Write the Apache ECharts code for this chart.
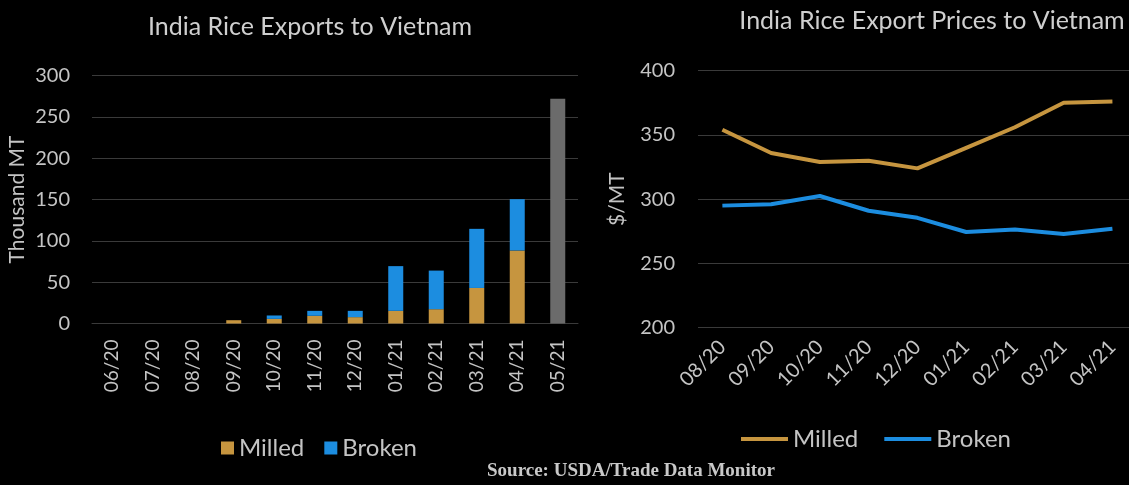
<!DOCTYPE html>
<html>
<head>
<meta charset="utf-8">
<script src="https://cdn.jsdelivr.net/npm/echarts@6/dist/echarts.min.js"></script>
<style>
html,body{margin:0;padding:0;background:#000;}
#c{width:1129px;height:485px;}
</style>
</head>
<body>
<div id="c"></div>
<script>
// Left chart: India Rice Exports to Vietnam (Thousand MT)
const exportMonths = ['06/20','07/20','08/20','09/20','10/20','11/20','12/20','01/21','02/21','03/21','04/21','05/21'];
const exportMilled = [null, null, null, 4, 5.6, 9.3, 7.7, 15.3, 17.3, 43, 88.3, null];
const exportBroken = [null, null, null, null, 4.1, 6, 7.6, 54.1, 46.7, 71.5, 62.1, null];
const exportTotalOnly = [null, null, null, null, null, null, null, null, null, null, null, 272];
const exportTicks = [0, 50, 100, 150, 200, 250, 300];

// Right chart: India Rice Export Prices to Vietnam ($/MT)
const priceMonths = ['08/20','09/20','10/20','11/20','12/20','01/21','02/21','03/21','04/21'];
const priceMilled = [354, 336, 329, 330, 324, 340, 356, 375, 376];
const priceBroken = [295, 296, 302.5, 291, 285.5, 274.5, 276.5, 273, 277];
const priceTicks = [200, 250, 300, 350, 400];

const FONT = 'Lato';
const TXT = '#c4c4c4';
const GRID = '#3a3a3a';
const GOLD = '#c6953f';
const BLUE = '#1c8de0';
const GRAY = '#6b6b6b';

const monthIdx = priceMonths.map((_, i) => i);
const toPairs = arr => arr.map((v, i) => [i, v]);

const chart = echarts.init(document.getElementById('c'));
chart.setOption({
  backgroundColor: '#000',
  animation: false,
  textStyle: { fontFamily: FONT },
  title: [
    { text: 'India Rice Exports to Vietnam', left: 305, textAlign: 'center', top: 9,
      textStyle: { color: '#cfcfcf', fontSize: 25, fontWeight: 'normal', fontFamily: FONT } },
    { text: 'India Rice Export Prices to Vietnam', left: 927, textAlign: 'center', top: 3,
      textStyle: { color: '#cfcfcf', fontSize: 25, fontWeight: 'normal', fontFamily: FONT } },
    { text: 'Source: USDA/Trade Data Monitor', left: 626, textAlign: 'center', top: 457,
      textStyle: { color: '#c8c8c8', fontSize: 19, fontWeight: 'bold', fontFamily: 'Liberation Serif' } }
  ],
  legend: [
    { data: ['Milled', 'Broken'], left: 216, top: 431, icon: 'rect', itemWidth: 13, itemHeight: 13,
      itemGap: 20, textStyle: { color: TXT, fontSize: 24, fontFamily: FONT } },
    { data: ['Milled price', 'Broken price'], left: 736, top: 422, icon: 'rect', itemWidth: 47, itemHeight: 4,
      itemGap: 26, formatter: n => n.replace(' price', ''),
      textStyle: { color: TXT, fontSize: 24, fontFamily: FONT } }
  ],
  grid: [
    { left: 92, top: 75.5, width: 486, height: 248 },
    { left: 698, top: 70.7, right: 0, height: 257 }
  ],
  xAxis: [
    { type: 'category', gridIndex: 0, data: exportMonths,
      axisLine: { lineStyle: { color: GRID } }, axisTick: { show: false },
      axisLabel: { rotate: 90, color: TXT, fontSize: 19, margin: 16, fontFamily: FONT } },
    { type: 'value', gridIndex: 1, min: -0.5, max: 8.34,
      axisLine: { show: false }, axisTick: { show: false }, splitLine: { show: false },
      axisLabel: { customValues: monthIdx, formatter: v => priceMonths[Math.round(v)],
        rotate: 45, color: TXT, fontSize: 20, margin: 16, fontFamily: FONT } }
  ],
  yAxis: [
    { type: 'value', gridIndex: 0, min: exportTicks[0], max: exportTicks[exportTicks.length - 1], interval: 50,
      name: 'Thousand MT', nameLocation: 'middle', nameGap: 64, nameRotate: 90,
      nameTextStyle: { color: TXT, fontSize: 21, fontFamily: FONT },
      axisLine: { show: false }, axisTick: { show: false },
      axisLabel: { color: TXT, fontSize: 20, margin: 22, fontFamily: FONT },
      splitLine: { lineStyle: { color: GRID, width: 1 } } },
    { type: 'value', gridIndex: 1, min: priceTicks[0], max: priceTicks[priceTicks.length - 1], interval: 50,
      name: '$/MT', nameLocation: 'middle', nameGap: 70, nameRotate: 90,
      nameTextStyle: { color: TXT, fontSize: 21, fontFamily: FONT },
      axisLine: { show: false }, axisTick: { show: false },
      axisLabel: { color: TXT, fontSize: 20, margin: 23, fontFamily: FONT },
      splitLine: { lineStyle: { color: GRID, width: 1 } } }
  ],
  series: [
    { name: 'Milled', type: 'bar', stack: 'exp', xAxisIndex: 0, yAxisIndex: 0, data: exportMilled,
      barWidth: 15, itemStyle: { color: GOLD } },
    { name: 'Broken', type: 'bar', stack: 'exp', xAxisIndex: 0, yAxisIndex: 0, data: exportBroken,
      barWidth: 15, itemStyle: { color: BLUE } },
    { name: 'Total', type: 'bar', stack: 'exp', xAxisIndex: 0, yAxisIndex: 0, data: exportTotalOnly,
      barWidth: 15, itemStyle: { color: GRAY } },
    { name: 'Milled price', type: 'line', xAxisIndex: 1, yAxisIndex: 1, data: toPairs(priceMilled),
      showSymbol: false, lineStyle: { color: GOLD, width: 4 }, itemStyle: { color: GOLD } },
    { name: 'Broken price', type: 'line', xAxisIndex: 1, yAxisIndex: 1, data: toPairs(priceBroken),
      showSymbol: false, lineStyle: { color: BLUE, width: 4 }, itemStyle: { color: BLUE } }
  ]
});
</script>
</body>
</html>
